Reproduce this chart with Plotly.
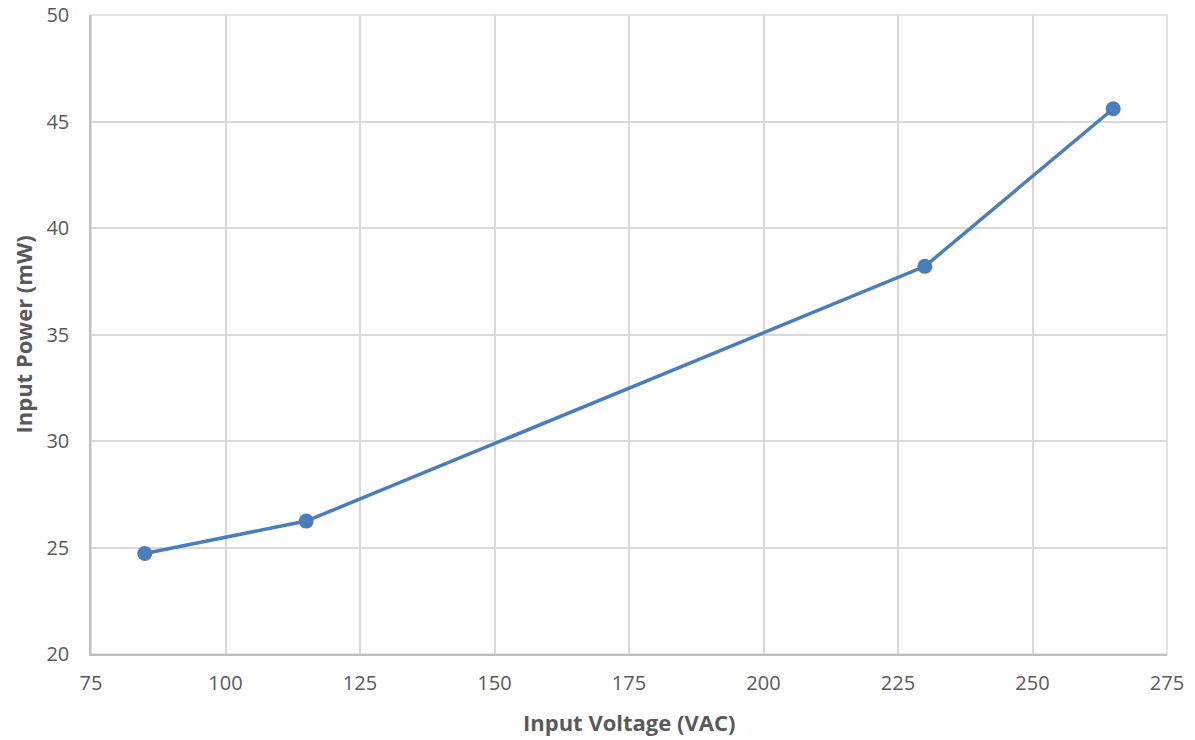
import plotly.graph_objects as go

voltage = [85, 115, 230, 265]
power = [24.72, 26.24, 38.2, 45.6]

x_ticks = [75, 100, 125, 150, 175, 200, 225, 250, 275]
y_ticks = [20, 25, 30, 35, 40, 45, 50]

x_title = "Input Voltage (VAC)"
y_title = "Input Power (mW)"

fig = go.Figure()
fig.add_trace(go.Scatter(
    x=voltage, y=power, mode="lines+markers",
    line=dict(color="#4a7ebb", width=3.5),
    marker=dict(color="#4a7ebb", size=15),
    showlegend=False, cliponaxis=False,
))

font_family = "Open Sans, Liberation Sans, sans-serif"
# page body has an 8px margin, so the figure is sized/offset to compensate
fig.update_layout(
    width=1179, height=732,
    margin=dict(l=83, r=20, t=7, b=86, autoexpand=False),
    paper_bgcolor="white", plot_bgcolor="white",
    font=dict(family=font_family, color="#595959", size=20),
    xaxis=dict(
        range=[75, 275], tickvals=x_ticks, showgrid=True, gridcolor="#d9d9d9", gridwidth=1.5,
        showline=True, linecolor="#bfbfbf", linewidth=1.5, zeroline=False,
        ticks="", ticklabelstandoff=10, automargin=False, ticklabeloverflow="allow",
    ),
    yaxis=dict(
        range=[20, 50], tickvals=y_ticks, showgrid=True, gridcolor="#d9d9d9", gridwidth=1.5,
        showline=True, linecolor="#bfbfbf", linewidth=1.5, zeroline=False,
        ticks="", ticklabelstandoff=16, automargin=False, ticklabeloverflow="allow",
    ),
)
fig.add_shape(type="rect", xref="paper", yref="paper", x0=0, y0=0, x1=1, y1=1,
              line=dict(color="#d9d9d9", width=1.5), layer="below")

fig.add_annotation(text="<b>" + x_title + "</b>", xref="paper", yref="paper", x=0.5, y=0,
                   yshift=-68, yanchor="middle", showarrow=False,
                   font=dict(size=22, color="#595959", family=font_family))
fig.add_annotation(text="<b>" + y_title + "</b>", xref="paper", yref="paper", x=0, y=0.5,
                   xshift=-69, xanchor="center", yanchor="middle", textangle=-90, showarrow=False,
                   font=dict(size=22, color="#595959", family=font_family))

fig.write_html("out.html")
